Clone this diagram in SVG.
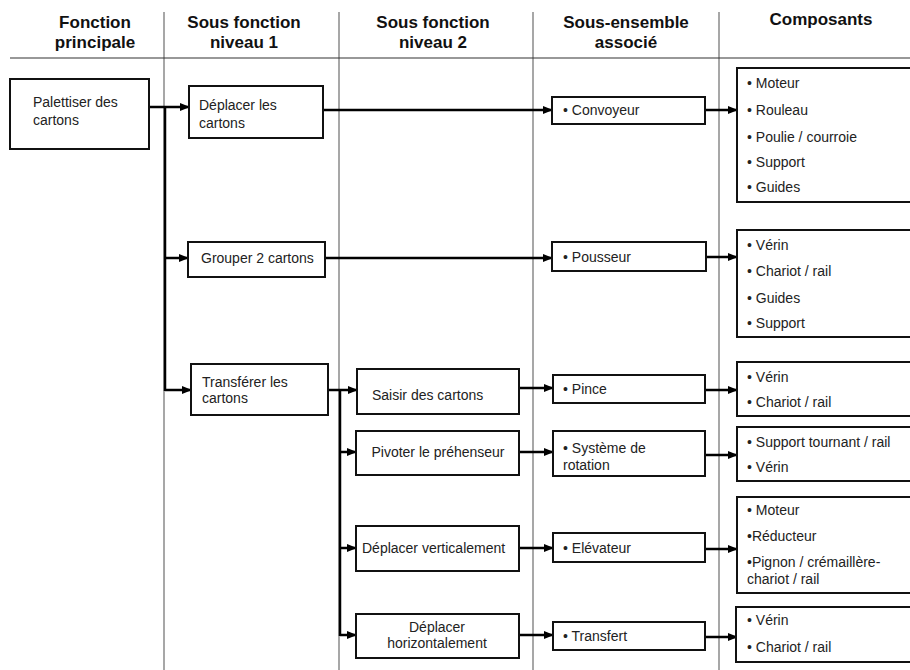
<svg xmlns="http://www.w3.org/2000/svg" width="910" height="670" viewBox="0 0 910 670">
<defs>
<marker id="arr" markerUnits="userSpaceOnUse" markerWidth="10" markerHeight="8" refX="9" refY="4" orient="auto">
<path d="M0,0 L10,4 L0,8 Z" fill="#000"/>
</marker>
<style>
.col{stroke:#8a8a8a;stroke-width:1.5;fill:none}
.hdr{font-family:"Liberation Sans",Arial,sans-serif;font-weight:bold;font-size:17px;fill:#111;text-anchor:middle}
.box{fill:#fff;stroke:#111;stroke-width:2}
.t{font-family:"Liberation Sans",Arial,sans-serif;font-size:14px;fill:#222}
.c{text-anchor:middle}
.ln{stroke:#000;stroke-width:2.5;fill:none}
.ar{stroke:#000;stroke-width:2.5;fill:none;marker-end:url(#arr)}
</style>
</defs>
<rect width="910" height="670" fill="#fff"/>
<g id="grid">
<line class="col" x1="164" y1="12" x2="164" y2="670"/>
<line class="col" x1="339" y1="12" x2="339" y2="670"/>
<line class="col" x1="533" y1="12" x2="533" y2="670"/>
<line class="col" x1="719" y1="12" x2="719" y2="670"/>
<line x1="10" y1="58" x2="910" y2="58" stroke="#333" stroke-width="1.2"/>
</g>
<g id="headers">
<text class="hdr" x="95" y="28">Fonction</text>
<text class="hdr" x="95" y="48">principale</text>
<text class="hdr" x="244" y="28">Sous fonction</text>
<text class="hdr" x="244" y="48">niveau 1</text>
<text class="hdr" x="433" y="28">Sous fonction</text>
<text class="hdr" x="433" y="48">niveau 2</text>
<text class="hdr" x="626" y="28">Sous-ensemble</text>
<text class="hdr" x="626" y="48">associé</text>
<text class="hdr" x="821" y="25">Composants</text>
</g>
<g id="connectors">
<line class="ar" x1="149" y1="107" x2="189" y2="107"/>
<line class="ln" x1="165" y1="106" x2="165" y2="391"/>
<line class="ar" x1="165" y1="258" x2="188" y2="258"/>
<line class="ar" x1="165" y1="390" x2="191" y2="390"/>
<line class="ar" x1="323" y1="110" x2="552" y2="110"/>
<line class="ar" x1="705" y1="110" x2="737" y2="110"/>
<line class="ar" x1="325" y1="258" x2="552" y2="258"/>
<line class="ar" x1="706" y1="257" x2="737" y2="257"/>
<line class="ar" x1="328" y1="390" x2="357" y2="390"/>
<line class="ln" x1="340" y1="389" x2="340" y2="636"/>
<line class="ar" x1="340" y1="452" x2="356" y2="452"/>
<line class="ar" x1="340" y1="548" x2="356" y2="548"/>
<line class="ar" x1="340" y1="635" x2="356" y2="635"/>
<line class="ar" x1="519" y1="388" x2="553" y2="388"/>
<line class="ar" x1="519" y1="452" x2="553" y2="452"/>
<line class="ar" x1="519" y1="548" x2="553" y2="548"/>
<line class="ar" x1="519" y1="635" x2="553" y2="635"/>
<line class="ar" x1="705" y1="390" x2="737" y2="390"/>
<line class="ar" x1="705" y1="455" x2="737" y2="455"/>
<line class="ar" x1="705" y1="549" x2="737" y2="549"/>
<line class="ar" x1="705" y1="637" x2="737" y2="637"/>
</g>
<g id="palettiser">
<rect class="box" x="10" y="79" width="139" height="70"/>
<text class="t" x="33" y="107">Palettiser des</text>
<text class="t" x="33" y="125">cartons</text>
</g>
<g id="deplacer">
<rect class="box" x="189" y="86" width="134" height="52"/>
<text class="t" x="199" y="110">Déplacer les</text>
<text class="t" x="199" y="128">cartons</text>
</g>
<g id="grouper">
<rect class="box" x="188" y="242" width="137" height="35"/>
<text class="t" x="201" y="263">Grouper 2 cartons</text>
</g>
<g id="transferer">
<rect class="box" x="191" y="364" width="137" height="51"/>
<text class="t" x="202" y="387">Transférer les</text>
<text class="t" x="202" y="403">cartons</text>
</g>
<g id="saisir">
<rect class="box" x="357" y="369" width="162" height="45"/>
<text class="t" x="372" y="400">Saisir des cartons</text>
</g>
<g id="pivoter">
<rect class="box" x="356" y="431" width="163" height="44"/>
<text class="t c" x="438" y="457">Pivoter le préhenseur</text>
</g>
<g id="dep-vert">
<rect class="box" x="356" y="526" width="163" height="45"/>
<text class="t" x="362" y="553">Déplacer verticalement</text>
</g>
<g id="dep-horiz">
<rect class="box" x="356" y="614" width="163" height="44"/>
<text class="t c" x="437" y="632">Déplacer</text>
<text class="t c" x="437" y="648">horizontalement</text>
</g>
<g id="convoyeur">
<rect class="box" x="552" y="97" width="153" height="27"/>
<text class="t" x="563" y="115">• Convoyeur</text>
</g>
<g id="pousseur">
<rect class="box" x="552" y="242" width="154" height="29"/>
<text class="t" x="563" y="262">• Pousseur</text>
</g>
<g id="pince">
<rect class="box" x="553" y="375" width="152" height="28"/>
<text class="t" x="563" y="394">• Pince</text>
</g>
<g id="rotation">
<rect class="box" x="553" y="431" width="152" height="45"/>
<text class="t" x="563" y="453">• Système de</text>
<text class="t" x="563" y="470">rotation</text>
</g>
<g id="elevateur">
<rect class="box" x="553" y="533" width="152" height="29"/>
<text class="t" x="563" y="553">• Elévateur</text>
</g>
<g id="transfert">
<rect class="box" x="553" y="622" width="152" height="28"/>
<text class="t" x="563" y="641">• Transfert</text>
</g>
<g id="comp1">
<rect class="box" x="737" y="68" width="176" height="134"/>
<text class="t" x="747" y="88">• Moteur</text>
<text class="t" x="747" y="115">• Rouleau</text>
<text class="t" x="747" y="142">• Poulie / courroie</text>
<text class="t" x="747" y="167">• Support</text>
<text class="t" x="747" y="192">• Guides</text>
</g>
<g id="comp2">
<rect class="box" x="737" y="230" width="176" height="107"/>
<text class="t" x="747" y="250">• Vérin</text>
<text class="t" x="747" y="276">• Chariot / rail</text>
<text class="t" x="747" y="303">• Guides</text>
<text class="t" x="747" y="328">• Support</text>
</g>
<g id="comp3">
<rect class="box" x="737" y="362" width="176" height="54"/>
<text class="t" x="747" y="382">• Vérin</text>
<text class="t" x="747" y="407">• Chariot / rail</text>
</g>
<g id="comp4">
<rect class="box" x="737" y="427" width="176" height="54"/>
<text class="t" x="747" y="447">• Support tournant / rail</text>
<text class="t" x="747" y="472">• Vérin</text>
</g>
<g id="comp5">
<rect class="box" x="737" y="497" width="176" height="96"/>
<text class="t" x="747" y="515">• Moteur</text>
<text class="t" x="747" y="541">•Réducteur</text>
<text class="t" x="747" y="567">•Pignon / crémaillère-</text>
<text class="t" x="747" y="584">chariot / rail</text>
</g>
<g id="comp6">
<rect class="box" x="736" y="607" width="177" height="55"/>
<text class="t" x="747" y="625">• Vérin</text>
<text class="t" x="747" y="652">• Chariot / rail</text>
</g>
</svg>
